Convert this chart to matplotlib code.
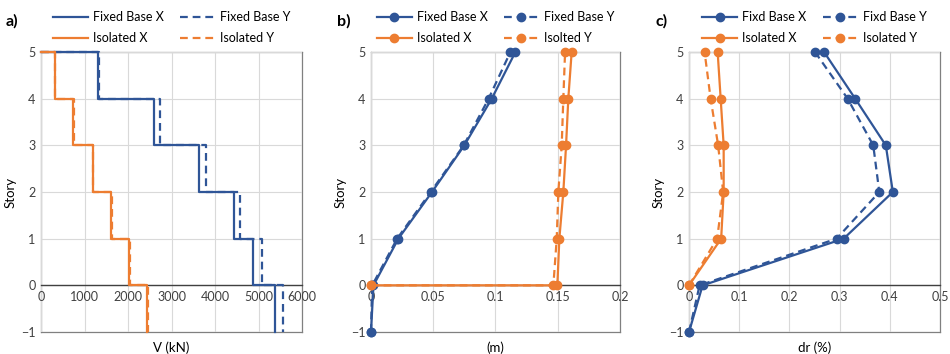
import numpy as np
import matplotlib
matplotlib.use('Agg')
import matplotlib.pyplot as plt

plt.rcParams['font.family'] = ['Lato', 'DejaVu Sans']
plt.rcParams['font.size'] = 9

BLUE = '#2F5597'
ORANGE = '#ED7D31'
GRID = '#D9D9D9'

# a) story shear, value of each story segment (story 5 ... story 0 -> -1)
shear_levels = [5, 4, 3, 2, 1, 0]
shear_fixed_x = [1310, 2600, 3640, 4440, 4880, 5380]
shear_fixed_y = [1325, 2740, 3790, 4580, 5090, 5570]
shear_iso_x = [320, 740, 1190, 1610, 2020, 2430]
shear_iso_y = [325, 760, 1200, 1625, 2045, 2460]

# b) displacement (m)
disp_fixed_story = [-1, 0, 1, 2, 3, 4, 5]
disp_fixed_x = [0, 0.002, 0.022, 0.049, 0.075, 0.097, 0.116]
disp_fixed_y = [0, 0.001, 0.021, 0.048, 0.0745, 0.0945, 0.112]
disp_iso_story = [0, 0, 1, 2, 3, 4, 5]
disp_iso_x = [0, 0.1497, 0.1513, 0.1545, 0.1567, 0.1585, 0.1612]
disp_iso_y = [0, 0.1465, 0.1492, 0.1505, 0.1532, 0.1545, 0.1559]

# c) drift ratio (%)
drift_fixed_story = [-1, 0, 1, 2, 3, 4, 5]
drift_fixed_x = [0, 0.027, 0.308, 0.406, 0.392, 0.331, 0.269]
drift_fixed_y = [0, 0.021, 0.294, 0.379, 0.367, 0.316, 0.251]
drift_iso_story = [0, 1, 2, 3, 4, 5]
drift_iso_x = [0, 0.064, 0.069, 0.069, 0.063, 0.057]
drift_iso_y = [0, 0.056, 0.068, 0.058, 0.043, 0.031]

DASH = (3.5, 2.2)


def step_xy(vals, levels):
    # start at (0, top) then go down story by story
    xs = [0]
    ys = [levels[0]]
    for v, lv in zip(vals, levels):
        xs += [v, v]
        ys += [lv, lv - 1]
    return xs, ys


def style_axes(ax, xmax, xticks, xlabels, xlabel, label):
    ax.set_xlim(0, xmax)
    ax.set_ylim(-1, 5)
    ax.set_xticks(xticks)
    ax.set_xticklabels(xlabels)
    ax.set_yticks(range(-1, 6))
    ax.grid(True, color=GRID, lw=0.8)
    ax.set_axisbelow(True)
    for s in ['left', 'top', 'right']:
        ax.spines[s].set_color('#808080')
        ax.spines[s].set_linewidth(0.9)
        ax.spines[s].set_zorder(0.5)
    ax.spines['bottom'].set_position(('data', 0))
    ax.spines['bottom'].set_color('#404040')
    ax.spines['bottom'].set_linewidth(1.0)
    ax.spines['bottom'].set_zorder(1.5)
    ax.plot([0, 1], [0, 0], transform=ax.transAxes, color='#808080', lw=0.9, clip_on=False, zorder=0.5)
    ax.tick_params(length=0, labelsize=9, colors='#404040', pad=4)
    ax.set_ylabel('Story', fontsize=9.5, labelpad=3)
    ax.set_xlabel(xlabel, fontsize=9.5, labelpad=3)
    ax.xaxis.set_label_coords(0.5, -0.035)
    # legend rows: X series on top, Y below -> reorder for column-first filling
    h, l = ax.get_legend_handles_labels()
    order = [0, 2, 1, 3]
    ax.legend([h[i] for i in order], [l[i] for i in order], ncol=2, loc='lower center',
              bbox_to_anchor=(0.5, 1.005), frameon=False,
              fontsize=9, handlelength=2.8, handletextpad=0.4, columnspacing=1.3,
              labelspacing=0.75, borderaxespad=0.1)
    ax.text(-0.135, 1.11, label, transform=ax.transAxes, fontsize=11.5, fontweight='bold',
            ha='left', va='center')


fig = plt.figure(figsize=(9.5, 3.54), dpi=100)
ax1 = fig.add_axes([0.0432, 0.0621, 0.2747, 0.791])
ax2 = fig.add_axes([0.3905, 0.0621, 0.2621, 0.791])
ax3 = fig.add_axes([0.7253, 0.0621, 0.2642, 0.791])

# a)
x, y = step_xy(shear_fixed_x, shear_levels)
ax1.plot(x, y, color=BLUE, lw=1.6, label='Fixed Base X', clip_on=False)
x, y = step_xy(shear_fixed_y, shear_levels)
ax1.plot(x, y, color=BLUE, lw=1.6, dashes=DASH, label='Fixed Base Y', clip_on=False)
x, y = step_xy(shear_iso_x, shear_levels)
ax1.plot(x, y, color=ORANGE, lw=1.6, label='Isolated X', clip_on=False)
x, y = step_xy(shear_iso_y, shear_levels)
ax1.plot(x, y, color=ORANGE, lw=1.6, dashes=DASH, label='Isolated Y', clip_on=False)
style_axes(ax1, 6000, range(0, 6001, 1000), [str(v) for v in range(0, 6001, 1000)], 'V (kN)', 'a)')

# b)
mk = dict(marker='o', ms=6, lw=1.6, clip_on=False)
ax2.plot(disp_fixed_x, disp_fixed_story, color=BLUE, label='Fixed Base X', **mk)
ax2.plot(disp_fixed_y, disp_fixed_story, color=BLUE, dashes=DASH, label='Fixed Base Y', **mk)
ax2.plot(disp_iso_x, disp_iso_story, color=ORANGE, label='Isolated X', **mk)
ax2.plot(disp_iso_y, disp_iso_story, color=ORANGE, dashes=DASH, label='Isolted Y', **mk)
style_axes(ax2, 0.2, [0, 0.05, 0.1, 0.15, 0.2], ['0', '0.05', '0.1', '0.15', '0.2'], '(m)', 'b)')

# c)
ax3.plot(drift_fixed_x, drift_fixed_story, color=BLUE, label='Fixd Base X', **mk)
ax3.plot(drift_fixed_y, drift_fixed_story, color=BLUE, dashes=DASH, label='Fixd Base Y', **mk)
ax3.plot(drift_iso_x, drift_iso_story, color=ORANGE, label='Isolated X', **mk)
ax3.plot(drift_iso_y, drift_iso_story, color=ORANGE, dashes=DASH, label='Isolated Y', **mk)
style_axes(ax3, 0.5, [0, 0.1, 0.2, 0.3, 0.4, 0.5], ['0', '0.1', '0.2', '0.3', '0.4', '0.5'], 'dr (%)', 'c)')

fig.savefig('out.png', dpi=100)
